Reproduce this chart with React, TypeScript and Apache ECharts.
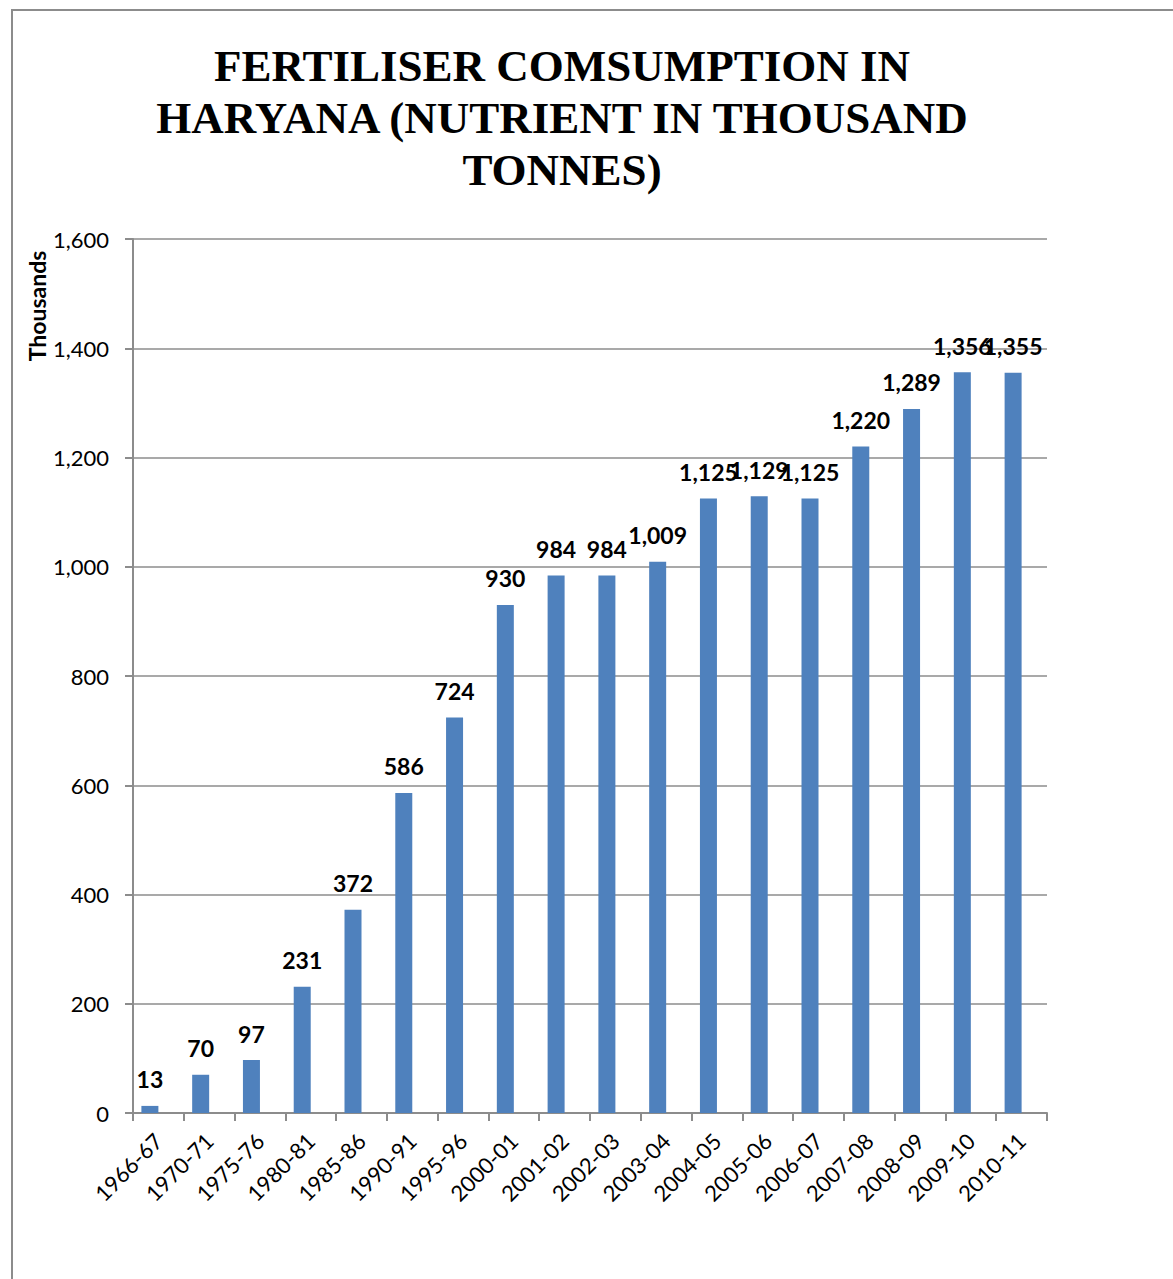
import React, { useEffect, useRef } from "react";
import * as echarts from "echarts";

const categories = [
  "1966-67", "1970-71", "1975-76", "1980-81", "1985-86", "1990-91", "1995-96",
  "2000-01", "2001-02", "2002-03", "2003-04", "2004-05", "2005-06", "2006-07",
  "2007-08", "2008-09", "2009-10", "2010-11",
];
const values = [13, 70, 97, 231, 372, 586, 724, 930, 984, 984, 1009, 1125, 1129, 1125, 1220, 1289, 1356, 1355];
// The source chart reserves a second (empty) bar slot in each category
const emptySeries = categories.map(() => null);
const titleLines = ["FERTILISER COMSUMPTION IN", "HARYANA (NUTRIENT IN THOUSAND", "TONNES)"];
const yAxisName = "Thousands";

const fmt = (v: number) => v.toLocaleString("en-US");

export default function App() {
  const ref = useRef<HTMLDivElement>(null);
  useEffect(() => {
    const chart = echarts.init(ref.current!, null, { renderer: "svg" });
    const sans = "Lato, 'Open Sans', sans-serif";
    chart.setOption({
      animation: false,
      backgroundColor: "#ffffff",
      graphic: [
        {
          type: "rect",
          shape: { x: 12, y: 10, width: 1300, height: 1400 },
          style: { fill: "none", stroke: "#8c8c8c", lineWidth: 2 },
          silent: true,
        },
        {
          type: "text",
          x: 562,
          y: 40,
          style: {
            text: titleLines.join("\n"),
            font: "bold 45px 'Liberation Serif', 'Times New Roman', serif",
            fill: "#000",
            textAlign: "center",
            lineHeight: 52,
          },
        },
        {
          type: "text",
          x: 37,
          y: 306,
          rotation: Math.PI / 2,
          style: {
            text: yAxisName,
            font: "bold 23px " + sans,
            fill: "#000",
            textAlign: "center",
            textVerticalAlign: "middle",
          },
        },
      ],
      grid: { left: 133, top: 239, right: 126, bottom: 166, containLabel: false },
      xAxis: {
        type: "category",
        data: categories,
        axisLine: { lineStyle: { color: "#8c8c8c", width: 2 } },
        axisTick: { show: true, length: 8, lineStyle: { color: "#8c8c8c", width: 2 } },
        axisLabel: {
          rotate: 45,
          margin: 24,
          color: "#000",
          fontSize: 22,
          fontFamily: sans,
          interval: 0,
        },
      },
      yAxis: {
        type: "value",
        min: 0,
        max: 1600,
        interval: 200,
        axisLine: { show: true, lineStyle: { color: "#8c8c8c", width: 2 } },
        axisTick: { show: true, length: 8, lineStyle: { color: "#8c8c8c", width: 2 } },
        splitLine: { lineStyle: { color: "#8c8c8c", width: 1.5 } },
        axisLabel: {
          color: "#000",
          fontSize: 22,
          fontFamily: sans,
          margin: 24,
          formatter: (v: number) => fmt(v),
        },
      },
      series: [
        {
          type: "bar",
          data: values,
          barWidth: 17,
          barGap: "0%",
          itemStyle: { color: "#4F81BD" },
          label: {
            show: true,
            position: "top",
            distance: 15,
            color: "#000",
            fontWeight: "bold",
            fontSize: 23,
            fontFamily: sans,
            formatter: (p: any) => fmt(p.value),
          },
        },
        {
          type: "bar",
          data: emptySeries,
          barWidth: 17,
          itemStyle: { color: "#C0504D" },
        },
      ],
    });
    return () => chart.dispose();
  }, []);
  return (
    <div
      ref={ref}
      style={{ position: "fixed", left: 0, top: 0, width: 1173, height: 1279, background: "#fff" }}
    />
  );
}
